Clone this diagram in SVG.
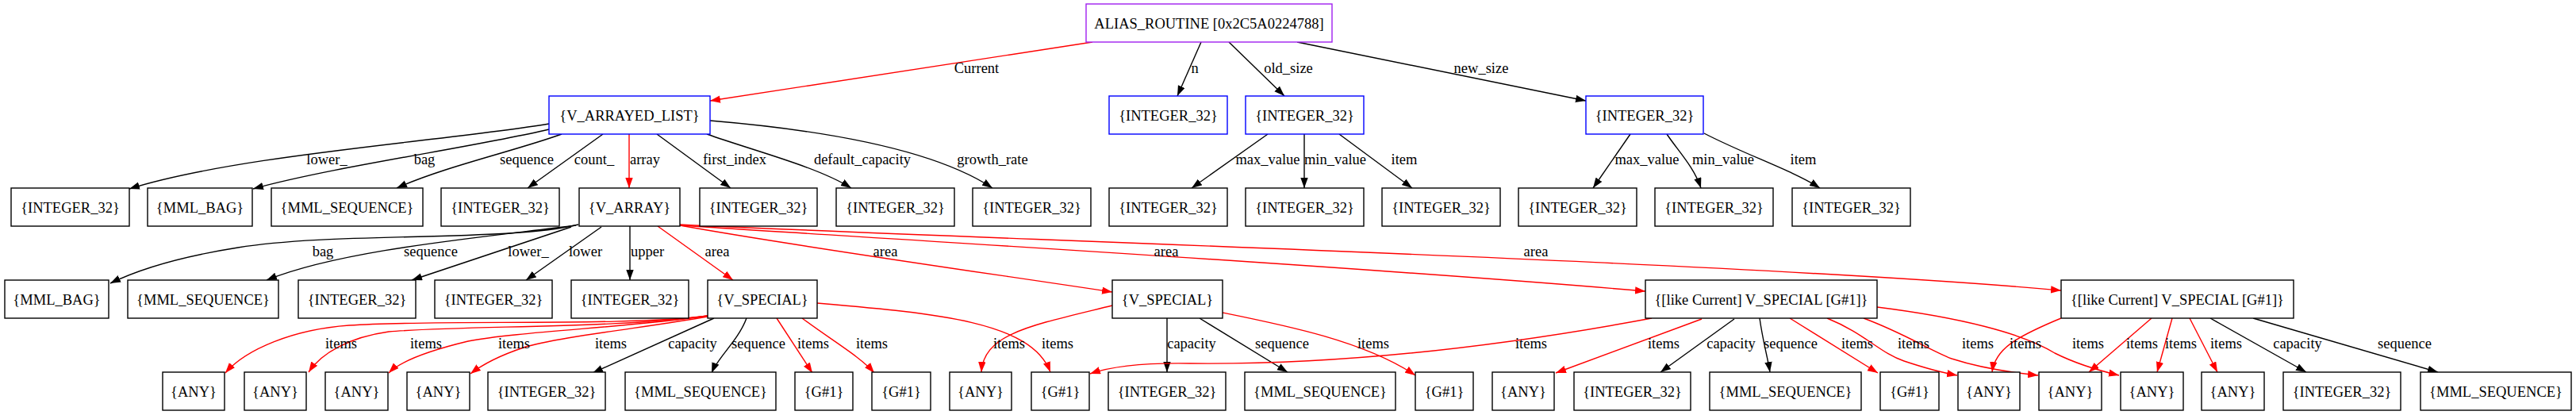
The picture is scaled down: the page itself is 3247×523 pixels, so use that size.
<svg xmlns="http://www.w3.org/2000/svg" width="3247" height="523" viewBox="0 0 3247 523">
<style>
.n rect{fill:#fff;stroke:#000;stroke-width:1.4}
.n.b rect{stroke:#0000ff}
.n.p rect{stroke:#a020f0}
text{font-family:"Liberation Serif","Times New Roman",serif;font-size:18.5px;fill:#000;text-anchor:middle}
.e{fill:none;stroke:#000;stroke-width:1.4;marker-end:url(#ak)}
.r{fill:none;stroke:#ff0000;stroke-width:1.4;marker-end:url(#ar)}
</style>
<defs>
<marker id="ak" markerWidth="14" markerHeight="10" refX="13" refY="4.7" orient="auto" markerUnits="userSpaceOnUse"><path d="M0,0 L13,4.7 L0,9.4 z" fill="#000"/></marker>
<marker id="ar" markerWidth="14" markerHeight="10" refX="13" refY="4.7" orient="auto" markerUnits="userSpaceOnUse"><path d="M0,0 L13,4.7 L0,9.4 z" fill="#ff0000"/></marker>
</defs>
<rect width="3247" height="523" fill="#fff"/>
<g id="connectors">
<path class="r" d="M1377,53 L895,127"/>
<path class="e" d="M1514,53 L1484,121"/>
<path class="e" d="M1549,53 L1619,121"/>
<path class="e" d="M1635,53 L1999,127"/>
<text x="1231" y="92">Current</text>
<text x="1506" y="92">n</text>
<text x="1624" y="92">old_size</text>
<text x="1867" y="92">new_size</text>
<path class="e" d="M692,156 C560,178 300,195 163,238"/>
<path class="e" d="M692,163 C600,185 420,210 319,238"/>
<path class="e" d="M708,169 C650,190 560,210 500,237"/>
<path class="e" d="M760,169 L665,237"/>
<path class="r" d="M793,169 L793,237"/>
<path class="e" d="M828,169 L921,237"/>
<path class="e" d="M891,169 C950,190 1030,210 1073,237"/>
<path class="e" d="M895,152 C1050,165 1180,190 1251,237"/>
<path class="e" d="M1598,169 L1502,237"/>
<path class="e" d="M1644,169 L1644,237"/>
<path class="e" d="M1688,169 L1780,237"/>
<path class="e" d="M2055,169 L2008,237"/>
<path class="e" d="M2101,169 C2115,190 2135,210 2144,237"/>
<path class="e" d="M2148,168 C2200,195 2260,215 2294,237"/>
<text x="412" y="207">lower_</text>
<text x="535" y="207">bag</text>
<text x="664" y="207">sequence</text>
<text x="749" y="207">count_</text>
<text x="813" y="207">array</text>
<text x="926" y="207">first_index</text>
<text x="1087" y="207">default_capacity</text>
<text x="1251" y="207">growth_rate</text>
<text x="1598" y="207">max_value</text>
<text x="1683" y="207">min_value</text>
<text x="1770" y="207">item</text>
<text x="2076" y="207">max_value</text>
<text x="2172" y="207">min_value</text>
<text x="2273" y="207">item</text>
<path class="e" d="M729,283 C640,305 420,292 300,312 C230,323 180,337 139,357"/>
<path class="e" d="M726,284 C600,300 430,315 336,353"/>
<path class="e" d="M720,286 L519,353"/>
<path class="e" d="M758,286 L663,353"/>
<path class="e" d="M794,285 L794,353"/>
<path class="r" d="M829,285 L924,353"/>
<path class="r" d="M857,284 C1000,310 1250,345 1402,368"/>
<path class="r" d="M857,284 C1100,300 1700,335 2074,367"/>
<path class="r" d="M857,283 C1200,300 2200,330 2598,366"/>
<text x="407" y="323">bag</text>
<text x="543" y="323">sequence</text>
<text x="666" y="323">lower_</text>
<text x="738" y="323">lower</text>
<text x="816" y="323">upper</text>
<text x="904" y="323">area</text>
<text x="1116" y="323">area</text>
<text x="1470" y="323">area</text>
<text x="1936" y="323">area</text>
<path class="r" d="M892,398 C780,412 560,402 440,410 C370,415 310,440 284,470"/>
<path class="r" d="M892,398 C780,414 580,410 490,418 C440,425 405,445 389,469"/>
<path class="r" d="M892,398 C800,412 650,418 590,430 C540,442 505,455 490,470"/>
<path class="r" d="M892,399 C820,412 700,425 660,438 C630,448 610,458 593,471"/>
<path class="e" d="M900,401 L747,470"/>
<path class="e" d="M941,401 C930,430 905,450 897,470"/>
<path class="r" d="M979,401 L1024,470"/>
<path class="r" d="M1011,401 C1050,430 1085,450 1102,470"/>
<path class="r" d="M1030,382 C1180,395 1300,405 1324,469"/>
<path class="r" d="M1402,385 C1300,410 1240,420 1237,469"/>
<path class="e" d="M1471,401 L1471,469"/>
<path class="e" d="M1512,401 L1623,469"/>
<path class="r" d="M1541,394 C1620,410 1720,430 1784,473"/>
<path class="r" d="M2082,401 C1900,435 1700,460 1500,458 C1440,457 1400,462 1374,471"/>
<path class="r" d="M2145,402 L1961,470"/>
<path class="e" d="M2186,402 L2093,469"/>
<path class="e" d="M2218,401 C2222,430 2228,450 2231,469"/>
<path class="r" d="M2256,401 L2367,470"/>
<path class="r" d="M2303,401 C2350,420 2370,445 2400,455 C2430,465 2450,470 2467,473"/>
<path class="r" d="M2349,401 C2400,420 2430,440 2460,452 C2500,465 2540,470 2569,473"/>
<path class="r" d="M2366,387 C2470,400 2550,420 2590,445 C2620,460 2650,468 2671,473"/>
<path class="r" d="M2598,401 C2540,425 2515,440 2511,469"/>
<path class="r" d="M2712,401 L2633,469"/>
<path class="r" d="M2738,401 L2719,469"/>
<path class="r" d="M2760,401 L2795,469"/>
<path class="e" d="M2786,401 L2907,469"/>
<path class="e" d="M2840,401 L3073,469"/>
<text x="430" y="439">items</text>
<text x="537" y="439">items</text>
<text x="648" y="439">items</text>
<text x="770" y="439">items</text>
<text x="873" y="439">capacity</text>
<text x="956" y="439">sequence</text>
<text x="1025" y="439">items</text>
<text x="1099" y="439">items</text>
<text x="1272" y="439">items</text>
<text x="1333" y="439">items</text>
<text x="1502" y="439">capacity</text>
<text x="1616" y="439">sequence</text>
<text x="1731" y="439">items</text>
<text x="1930" y="439">items</text>
<text x="2097" y="439">items</text>
<text x="2182" y="439">capacity</text>
<text x="2257" y="439">sequence</text>
<text x="2341" y="439">items</text>
<text x="2412" y="439">items</text>
<text x="2493" y="439">items</text>
<text x="2553" y="439">items</text>
<text x="2632" y="439">items</text>
<text x="2700" y="439">items</text>
<text x="2749" y="439">items</text>
<text x="2806" y="439">items</text>
<text x="2896" y="439">capacity</text>
<text x="3031" y="439">sequence</text>
</g>
<g id="root" class="n p"><rect x="1369" y="5" width="310" height="48"/><text x="1524" y="35.5">ALIAS_ROUTINE [0x2C5A0224788]</text></g>
<g id="n_val" class="n b"><rect x="692" y="121" width="203" height="48"/><text x="793.5" y="151.5">{V_ARRAYED_LIST}</text></g>
<g id="n_n" class="n b"><rect x="1398" y="121" width="149" height="48"/><text x="1472.5" y="151.5">{INTEGER_32}</text></g>
<g id="n_old" class="n b"><rect x="1570" y="121" width="149" height="48"/><text x="1644.5" y="151.5">{INTEGER_32}</text></g>
<g id="n_new" class="n b"><rect x="1999" y="121" width="148" height="48"/><text x="2073" y="151.5">{INTEGER_32}</text></g>
<g id="a1" class="n"><rect x="14" y="237" width="149" height="48"/><text x="88.5" y="267.5">{INTEGER_32}</text></g>
<g id="a2" class="n"><rect x="186" y="237" width="132" height="48"/><text x="252" y="267.5">{MML_BAG}</text></g>
<g id="a3" class="n"><rect x="342" y="237" width="191" height="48"/><text x="437.5" y="267.5">{MML_SEQUENCE}</text></g>
<g id="a4" class="n"><rect x="556" y="237" width="149" height="48"/><text x="630.5" y="267.5">{INTEGER_32}</text></g>
<g id="a5" class="n"><rect x="730" y="237" width="127" height="48"/><text x="793.5" y="267.5">{V_ARRAY}</text></g>
<g id="a6" class="n"><rect x="882" y="237" width="148" height="48"/><text x="956" y="267.5">{INTEGER_32}</text></g>
<g id="a7" class="n"><rect x="1054" y="237" width="149" height="48"/><text x="1128.5" y="267.5">{INTEGER_32}</text></g>
<g id="a8" class="n"><rect x="1226" y="237" width="149" height="48"/><text x="1300.5" y="267.5">{INTEGER_32}</text></g>
<g id="a9" class="n"><rect x="1398" y="237" width="149" height="48"/><text x="1472.5" y="267.5">{INTEGER_32}</text></g>
<g id="a10" class="n"><rect x="1570" y="237" width="149" height="48"/><text x="1644.5" y="267.5">{INTEGER_32}</text></g>
<g id="a11" class="n"><rect x="1742" y="237" width="149" height="48"/><text x="1816.5" y="267.5">{INTEGER_32}</text></g>
<g id="a12" class="n"><rect x="1914" y="237" width="149" height="48"/><text x="1988.5" y="267.5">{INTEGER_32}</text></g>
<g id="a13" class="n"><rect x="2086" y="237" width="149" height="48"/><text x="2160.5" y="267.5">{INTEGER_32}</text></g>
<g id="a14" class="n"><rect x="2259" y="237" width="149" height="48"/><text x="2333.5" y="267.5">{INTEGER_32}</text></g>
<g id="b1" class="n"><rect x="6" y="353" width="131" height="48"/><text x="71.5" y="383.5">{MML_BAG}</text></g>
<g id="b2" class="n"><rect x="161" y="353" width="190" height="48"/><text x="256" y="383.5">{MML_SEQUENCE}</text></g>
<g id="b3" class="n"><rect x="376" y="353" width="148" height="48"/><text x="450" y="383.5">{INTEGER_32}</text></g>
<g id="b4" class="n"><rect x="548" y="353" width="148" height="48"/><text x="622" y="383.5">{INTEGER_32}</text></g>
<g id="b5" class="n"><rect x="720" y="353" width="148" height="48"/><text x="794" y="383.5">{INTEGER_32}</text></g>
<g id="b6" class="n"><rect x="892" y="353" width="138" height="48"/><text x="961" y="383.5">{V_SPECIAL}</text></g>
<g id="b7" class="n"><rect x="1402" y="353" width="139" height="48"/><text x="1471.5" y="383.5">{V_SPECIAL}</text></g>
<g id="b8" class="n"><rect x="2074" y="353" width="292" height="48"/><text x="2220" y="383.5">{[like Current] V_SPECIAL [G#1]}</text></g>
<g id="b9" class="n"><rect x="2598" y="353" width="293" height="48"/><text x="2744.5" y="383.5">{[like Current] V_SPECIAL [G#1]}</text></g>
<g id="c1" class="n"><rect x="205" y="469" width="78" height="48"/><text x="244" y="499.5">{ANY}</text></g>
<g id="c2" class="n"><rect x="308" y="469" width="78" height="48"/><text x="347" y="499.5">{ANY}</text></g>
<g id="c3" class="n"><rect x="410" y="469" width="79" height="48"/><text x="449.5" y="499.5">{ANY}</text></g>
<g id="c4" class="n"><rect x="513" y="469" width="79" height="48"/><text x="552.5" y="499.5">{ANY}</text></g>
<g id="c5" class="n"><rect x="615" y="469" width="148" height="48"/><text x="689" y="499.5">{INTEGER_32}</text></g>
<g id="c6" class="n"><rect x="788" y="469" width="190" height="48"/><text x="883" y="499.5">{MML_SEQUENCE}</text></g>
<g id="c7" class="n"><rect x="1002" y="469" width="73" height="48"/><text x="1038.5" y="499.5">{G#1}</text></g>
<g id="c8" class="n"><rect x="1099" y="469" width="74" height="48"/><text x="1136" y="499.5">{G#1}</text></g>
<g id="c9" class="n"><rect x="1197" y="469" width="78" height="48"/><text x="1236" y="499.5">{ANY}</text></g>
<g id="c10" class="n"><rect x="1300" y="469" width="73" height="48"/><text x="1336.5" y="499.5">{G#1}</text></g>
<g id="c11" class="n"><rect x="1397" y="469" width="148" height="48"/><text x="1471" y="499.5">{INTEGER_32}</text></g>
<g id="c12" class="n"><rect x="1569" y="469" width="190" height="48"/><text x="1664" y="499.5">{MML_SEQUENCE}</text></g>
<g id="c13" class="n"><rect x="1784" y="469" width="73" height="48"/><text x="1820.5" y="499.5">{G#1}</text></g>
<g id="c14" class="n"><rect x="1881" y="469" width="78" height="48"/><text x="1920" y="499.5">{ANY}</text></g>
<g id="c15" class="n"><rect x="1984" y="469" width="147" height="48"/><text x="2057.5" y="499.5">{INTEGER_32}</text></g>
<g id="c16" class="n"><rect x="2155" y="469" width="191" height="48"/><text x="2250.5" y="499.5">{MML_SEQUENCE}</text></g>
<g id="c17" class="n"><rect x="2370" y="469" width="74" height="48"/><text x="2407" y="499.5">{G#1}</text></g>
<g id="c18" class="n"><rect x="2468" y="469" width="78" height="48"/><text x="2507" y="499.5">{ANY}</text></g>
<g id="c19" class="n"><rect x="2570" y="469" width="79" height="48"/><text x="2609.5" y="499.5">{ANY}</text></g>
<g id="c20" class="n"><rect x="2673" y="469" width="79" height="48"/><text x="2712.5" y="499.5">{ANY}</text></g>
<g id="c21" class="n"><rect x="2775" y="469" width="79" height="48"/><text x="2814.5" y="499.5">{ANY}</text></g>
<g id="c22" class="n"><rect x="2878" y="469" width="148" height="48"/><text x="2952" y="499.5">{INTEGER_32}</text></g>
<g id="c23" class="n"><rect x="3051" y="469" width="190" height="48"/><text x="3146" y="499.5">{MML_SEQUENCE}</text></g>
</svg>
